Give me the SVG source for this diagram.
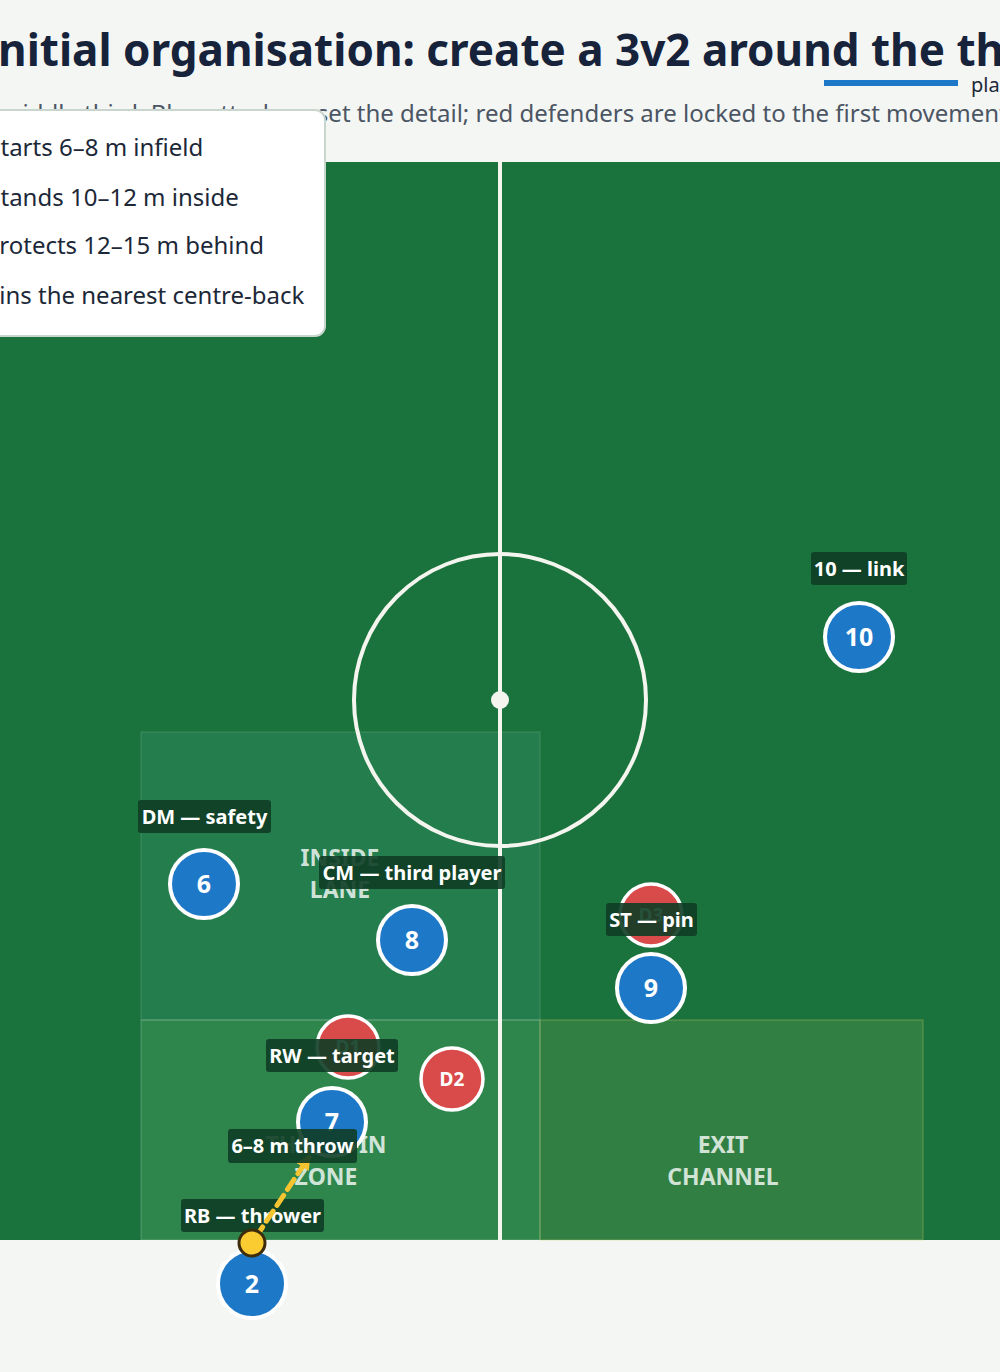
<svg xmlns="http://www.w3.org/2000/svg" width="1000" height="1372" viewBox="0 0 1000 1372">
<style>
  .t{font-family:"Noto Sans","Open Sans","DejaVu Sans",sans-serif}
  .title{font-size:44px;font-weight:700;fill:#17233a}
  .sub{font-size:24px;fill:#4b5563}
  .info{font-size:24px;fill:#1c2838}
  .leg{font-size:20px;fill:#1c2838}
  .zone{font-size:23px;font-weight:700;fill:#ffffff;fill-opacity:0.78;text-anchor:middle}
  .att{fill:#1e78c8;stroke:#ffffff;stroke-width:4}
  .def{fill:#d94b4b;stroke:#ffffff;stroke-width:3.5}
  .num{font-size:25px;font-weight:700;fill:#ffffff;text-anchor:middle}
  .dnum{font-size:19px;font-weight:700;fill:#ffffff;text-anchor:middle}
  .lbox{fill:#0e3d25;fill-opacity:0.9}
  .ltxt{font-size:20px;font-weight:700;fill:#ffffff;text-anchor:middle}
  .pline{fill:none;stroke:#f4f5ee;stroke-width:4}
</style>
<defs>
  <marker id="arrowY" viewBox="0 0 10 10" refX="8" refY="5" markerWidth="3" markerHeight="3" orient="auto" markerUnits="strokeWidth">
    <path d="M0,0 L10,5 L0,10 z" fill="#f6c431"/>
  </marker>
</defs>
<rect x="0" y="0" width="1000" height="1372" fill="#f4f6f4"/>

<g id="header">
  <text class="t title" x="-19" y="66">Initial organisation: create a 3v2 around the th</text>
  <line x1="824" y1="83" x2="958" y2="83" stroke="#1e78c8" stroke-width="6"/>
  <text class="t leg" x="971" y="92">pla</text>
  <text class="t sub" x="0" y="122">middle third. Blue attackers set the detail; red defenders are locked to the first movement</text>
</g>

<g id="pitch">
  <rect x="0" y="162" width="1000" height="1078" fill="#1a733c"/>
  <rect id="zone-inside" x="141" y="732" width="399" height="288" fill="#5fb3a0" fill-opacity="0.16" stroke="#ffffff" stroke-opacity="0.1" stroke-width="1.5"/>
  <rect id="zone-throw" x="141" y="1020" width="399" height="220" fill="#6cc080" fill-opacity="0.25" stroke="#ffffff" stroke-opacity="0.15" stroke-width="1.5"/>
  <rect id="zone-exit" x="540" y="1020" width="383" height="220" fill="#8fae5a" fill-opacity="0.2" stroke="#d2cf6a" stroke-opacity="0.25" stroke-width="1.5"/>
  <line class="pline" x1="500" y1="162" x2="500" y2="1240"/>
  <circle class="pline" cx="500" cy="700" r="146" stroke-width="3.5"/>
  <circle cx="500" cy="700" r="9" fill="#f4f5ee"/>
  <text class="t zone" x="340" y="866">INSIDE</text>
  <text class="t zone" x="340" y="898">LANE</text>
  <text class="t zone" x="326" y="1153">THROW-IN</text>
  <text class="t zone" x="326" y="1185">ZONE</text>
  <text class="t zone" x="723" y="1153">EXIT</text>
  <text class="t zone" x="723" y="1185">CHANNEL</text>
</g>

<g id="node-D3">
  <circle class="def" cx="651" cy="915" r="31"/>
  <text class="t dnum" x="651" y="922">D3</text>
</g>
<g id="node-9">
  <circle class="att" cx="651" cy="988" r="34"/>
  <text class="t num" x="651" y="997">9</text>
  <rect class="lbox" x="606" y="903" width="91" height="33" rx="3"/>
  <text class="t ltxt" x="651.5" y="927">ST — pin</text>
</g>
<g id="node-10">
  <circle class="att" cx="859" cy="637" r="34"/>
  <text class="t num" x="859" y="646">10</text>
  <rect class="lbox" x="811" y="552" width="96" height="33" rx="3"/>
  <text class="t ltxt" x="859" y="576">10 — link</text>
</g>
<g id="node-6">
  <circle class="att" cx="204" cy="884" r="34"/>
  <text class="t num" x="204" y="893">6</text>
  <rect class="lbox" x="138" y="800" width="133" height="33" rx="3"/>
  <text class="t ltxt" x="204.5" y="824">DM — safety</text>
</g>
<g id="node-8">
  <circle class="att" cx="412" cy="940" r="34"/>
  <text class="t num" x="412" y="949">8</text>
  <rect class="lbox" x="319" y="856" width="186" height="33" rx="3"/>
  <text class="t ltxt" x="412" y="880">CM — third player</text>
</g>
<g id="node-D2">
  <circle class="def" cx="452" cy="1079" r="31"/>
  <text class="t dnum" x="452" y="1086">D2</text>
</g>
<g id="node-D1">
  <circle class="def" cx="348" cy="1047" r="31"/>
  <text class="t dnum" x="348" y="1054">D1</text>
</g>
<g id="node-7">
  <circle class="att" cx="332" cy="1122" r="34"/>
  <text class="t num" x="332" y="1131">7</text>
  <rect class="lbox" x="266" y="1039" width="132" height="33" rx="3"/>
  <text class="t ltxt" x="332" y="1063">RW — target</text>
</g>
<g id="node-2">
  <circle class="att" cx="252" cy="1284" r="34"/>
  <text class="t num" x="252" y="1293">2</text>
  <rect class="lbox" x="181" y="1199" width="143" height="33" rx="3"/>
  <text class="t ltxt" x="252.5" y="1223">RB — thrower</text>
</g>

<g id="connectors">
  <line x1="256" y1="1237" x2="309" y2="1157" stroke="#f6c431" stroke-width="5" stroke-dasharray="12 7" stroke-linecap="round" marker-end="url(#arrowY)"/>
  <rect class="lbox" x="228" y="1129" width="129" height="34" rx="3"/>
  <text class="t ltxt" x="292.5" y="1153">6–8 m throw</text>
</g>

<g id="ball">
  <circle cx="252" cy="1243" r="13" fill="#fbcb32" stroke="#3d2c0c" stroke-width="3"/>
</g>

<g id="info-box">
  <rect x="-20" y="110" width="345" height="226" rx="10" fill="#ffffff" stroke="#c9d6ce" stroke-width="2"/>
  <text class="t info" x="-11" y="156">starts 6–8 m infield</text>
  <text class="t info" x="-11" y="206">stands 10–12 m inside</text>
  <text class="t info" x="-15.5" y="254">protects 12–15 m behind</text>
  <text class="t info" x="-15.5" y="304">pins the nearest centre-back</text>
</g>
</svg>
